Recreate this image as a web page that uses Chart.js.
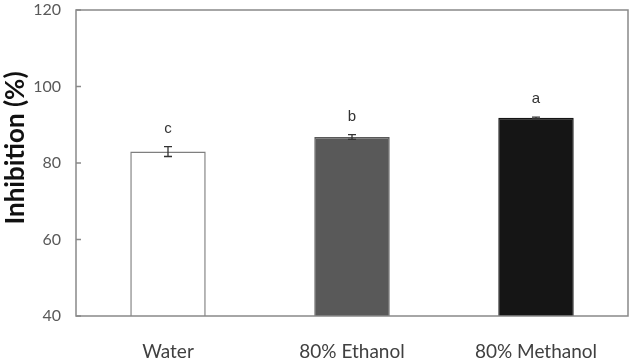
<!DOCTYPE html>
<html>
<head>
<meta charset="utf-8">
<script src="https://cdn.jsdelivr.net/npm/chart.js@4/dist/chart.umd.min.js"></script>
<style>
  html, body { margin: 0; padding: 0; background: #fff; }
  #wrap { width: 637px; height: 360px; }
</style>
</head>
<body>
<div id="wrap"><canvas id="c" width="637" height="360"></canvas></div>
<script>
const categories = ["Water", "80% Ethanol", "80% Methanol"];
const values = [83.0, 86.8, 91.8];
const errors = [1.3, 0.6, 0.2];
const letters = ["c", "b", "a"];
const yTicks = [40, 60, 80, 100, 120];
const yTitle = "Inhibition (%)";

const fills = ["#ffffff", "#595959", "#151515"];
const borders = ["#7f7f7f", "#595959", "#151515"];

const annotate = {
  id: "annotate",
  afterDatasetsDraw(chart) {
    const ctx = chart.ctx;
    const xs = chart.scales.x, ys = chart.scales.y;
    const a = chart.chartArea;
    ctx.save();
    // error bars
    ctx.strokeStyle = "#333333";
    ctx.lineWidth = 1.3;
    values.forEach((v, i) => {
      const x = xs.getPixelForValue(i);
      const yt = ys.getPixelForValue(v + errors[i]);
      const yb = ys.getPixelForValue(v - errors[i]);
      ctx.beginPath();
      ctx.moveTo(x, yt); ctx.lineTo(x, yb);
      ctx.moveTo(x - 4, yt); ctx.lineTo(x + 4, yt);
      ctx.moveTo(x - 4, yb); ctx.lineTo(x + 4, yb);
      ctx.stroke();
    });
    // letters
    ctx.fillStyle = "#333333";
    ctx.font = "15px 'Liberation Sans', Arial, sans-serif";
    ctx.textAlign = "center";
    ctx.textBaseline = "middle";
    values.forEach((v, i) => {
      const x = xs.getPixelForValue(i);
      const y = ys.getPixelForValue(v + errors[i]) - 18;
      ctx.fillText(letters[i], x, y);
    });
    // frame
    ctx.strokeStyle = "#898989";
    ctx.lineWidth = 1.5;
    ctx.strokeRect(a.left, a.top, a.right - a.left, a.bottom - a.top);
    // inward y ticks
    ctx.beginPath();
    yTicks.forEach(t => {
      const y = ys.getPixelForValue(t);
      ctx.moveTo(a.left, y); ctx.lineTo(a.left + 5, y);
    });
    ctx.stroke();
    // y title
    ctx.fillStyle = "#111111";
    ctx.font = "bold 26px Lato, 'Open Sans', sans-serif";
    ctx.translate(16, 148);
    ctx.rotate(-Math.PI / 2);
    ctx.fillText(yTitle, 0, 0);
    ctx.restore();
  }
};

new Chart(document.getElementById("c"), {
  type: "bar",
  data: {
    labels: categories,
    datasets: [{
      data: values,
      backgroundColor: fills,
      borderColor: borders,
      borderWidth: 1.5,
      categoryPercentage: 1.0,
      barPercentage: 0.41
    }]
  },
  options: {
    responsive: false,
    animation: false,
    devicePixelRatio: 1,
    layout: { autoPadding: false, padding: { top: 10, right: 9, left: 0, bottom: 0 } },
    plugins: { legend: { display: false }, tooltip: { enabled: false } },
    scales: {
      x: {
        grid: { display: false, drawTicks: false },
        border: { display: false },
        ticks: { color: "#404040", font: { family: "Lato", size: 19 }, padding: 24 },
        afterFit(s) { s.height = 44; s.paddingLeft = 0; s.paddingRight = 0; }
      },
      y: {
        min: 40, max: 120,
        afterBuildTicks(s) { s.ticks = yTicks.map(v => ({ value: v })); },
        grid: { display: false, drawTicks: false },
        border: { display: false },
        ticks: { color: "#595959", font: { family: "Lato", size: 16 }, padding: 15 },
        afterFit(s) { s.width = 76; s.paddingTop = 0; s.paddingBottom = 0; }
      }
    }
  },
  plugins: [annotate]
});
</script>
</body>
</html>
